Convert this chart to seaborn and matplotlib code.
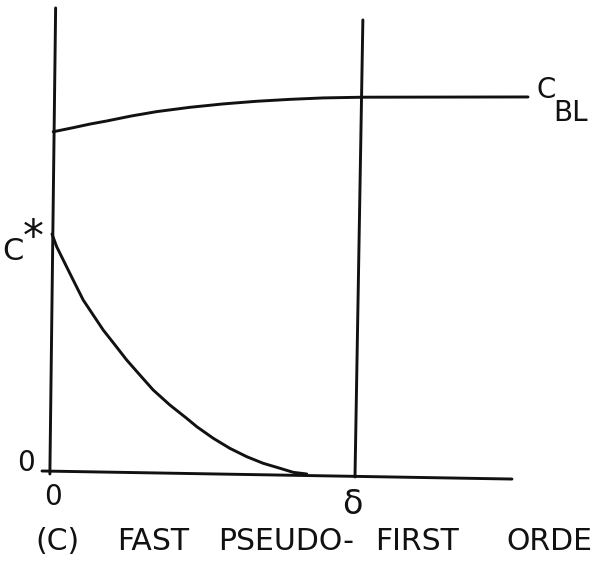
import numpy as np
import pandas as pd
import matplotlib
matplotlib.use("Agg")
import matplotlib.pyplot as plt
import seaborn as sns

# Film-theory concentration profiles; x in units of film thickness delta,
# y in units of interfacial concentration C*.
upper_x = [0.004, 0.070, 0.125, 0.181, 0.263, 0.346, 0.456, 0.565,
           0.675, 0.785, 0.895, 1.028, 1.571]
upper_y = [1.426, 1.443, 1.458, 1.471, 1.492, 1.510, 1.528, 1.542,
           1.553, 1.561, 1.567, 1.570, 1.571]

lower_x = [0.0, 0.0155, 0.037, 0.070, 0.103, 0.136, 0.169, 0.208, 0.2465,
           0.290, 0.334, 0.389, 0.4445, 0.478, 0.532, 0.587, 0.643, 0.697,
           0.752, 0.796, 0.841]
lower_y = [1.0, 0.947, 0.892, 0.808, 0.725, 0.6625, 0.600, 0.5375, 0.475,
           0.4125, 0.350, 0.2875, 0.232, 0.197, 0.149, 0.107, 0.072, 0.0446,
           0.024, 0.007, 0.0]

# Hand-drawn frame lines: left axis, baseline, film boundary at delta
left_axis_x = [0.012, -0.007]
left_axis_y = [1.942, 0.0]
base_x = [-0.033, 1.518]
base_y = [0.0125, -0.021]
film_x = [1.026, 1.0]
film_y = [1.892, -0.0125]

# Caption words, laid out with the wide hand-lettered spacing
caption_words = ["(C)", "FAST", "PSEUDO-", "FIRST", "ORDE"]
caption_left = [-0.056, 0.215, 0.548, 1.066, 1.500]

sns.set_theme(style="white")
plt.rcParams["font.family"] = ["DejaVu Sans"]

fig = plt.figure(figsize=(5.93, 5.67), dpi=100)
ax = fig.add_axes([0, 0, 1, 1])
ax.set_xlim(-0.1716, 1.7855)
ax.set_ylim(-0.3875, 1.975)
ax.set_axis_off()

lw = 2.1
col = "#111111"

def seg(xs, ys):
    df = pd.DataFrame({"x": xs, "y": ys})
    sns.lineplot(data=df, x="x", y="y", sort=False, estimator=None,
                 color=col, linewidth=lw, ax=ax, legend=False)

seg(left_axis_x, left_axis_y)
seg(base_x, base_y)
seg(film_x, film_y)
seg(upper_x, upper_y)
seg(lower_x, lower_y)

fs = 20
ax.text(-0.130, 0.925, "C", fontsize=22, ha="center", va="center", color=col)
ax.text(-0.063, 0.985, "*", fontsize=30, ha="center", va="center", color=col)
ax.text(-0.086, 0.046, "0", fontsize=fs, ha="center", va="center", color=col)
ax.text(0.003, -0.096, "0", fontsize=fs, ha="center", va="center", color=col)
ax.text(0.990, -0.128, "δ", fontsize=24, ha="center", va="center", color=col)
ax.text(1.630, 1.600, "C", fontsize=fs, ha="center", va="center", color=col)
ax.text(1.713, 1.504, "BL", fontsize=fs, ha="center", va="center", color=col)
for word, x0 in zip(caption_words, caption_left):
    ax.text(x0, -0.317, word, fontsize=21.5, ha="left", va="baseline", color=col)

fig.savefig("out.png", dpi=100, facecolor="white")
